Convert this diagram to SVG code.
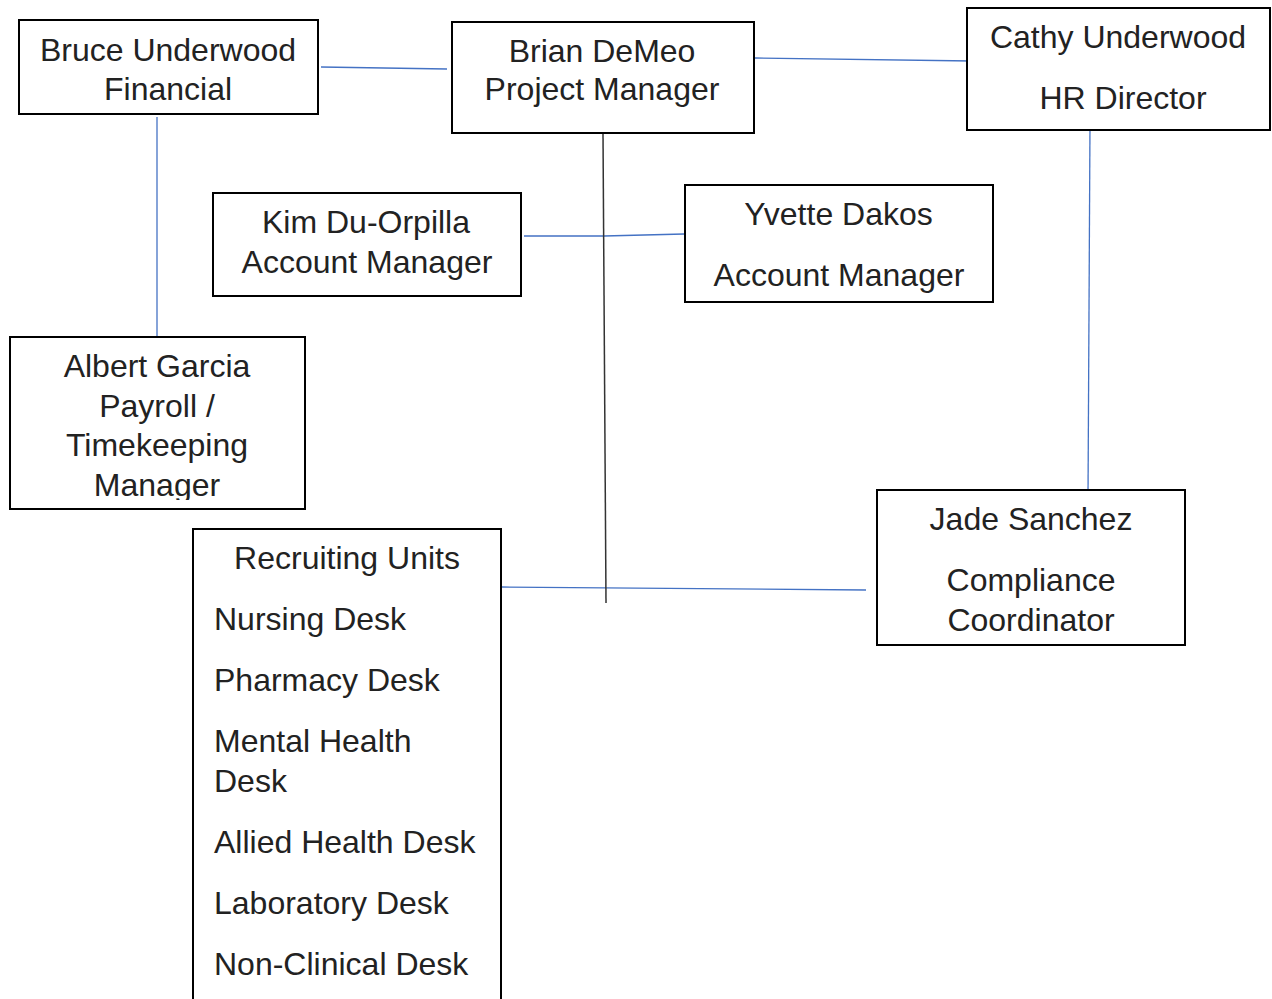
<svg xmlns="http://www.w3.org/2000/svg" width="1272" height="999" viewBox="0 0 1272 999">
<style>
.box{fill:#fff;stroke:#000;stroke-width:2}
text{font-family:"Liberation Sans",Arial,sans-serif;font-size:32px;fill:#222}
.c{text-anchor:middle}
.blue{stroke:#4472C4;stroke-width:1.3;fill:none}
.dark{stroke:#333;stroke-width:1.5;fill:none}
</style>
<defs>
<clipPath id="clipAlbert"><rect x="10" y="337" width="295" height="163"/></clipPath>
</defs>
<rect width="1272" height="999" fill="#fff"/>
<g id="connectors">
<line class="blue" x1="321" y1="67" x2="447" y2="69"/>
<line class="blue" x1="755" y1="58" x2="972" y2="61"/>
<line class="blue" x1="157" y1="117" x2="157" y2="338"/>
<line class="blue" x1="1090" y1="123" x2="1088" y2="499"/>
<polyline class="blue" points="524,236 604,236 684,234"/>
<line class="blue" x1="502" y1="587" x2="866" y2="590"/>
<line class="dark" x1="603" y1="134" x2="606" y2="603"/>
</g>
<g id="bruce">
<rect class="box" x="19" y="20" width="299" height="94"/>
<text class="c" x="168" y="61">Bruce Underwood</text>
<text class="c" x="168" y="100">Financial</text>
</g>
<g id="brian">
<rect class="box" x="452" y="22" width="302" height="111"/>
<text class="c" x="602" y="62">Brian DeMeo</text>
<text class="c" x="602" y="100">Project Manager</text>
</g>
<g id="cathy">
<rect class="box" x="967" y="8" width="303" height="122"/>
<text class="c" x="1118" y="48">Cathy Underwood</text>
<text class="c" x="1123" y="109">HR Director</text>
</g>
<g id="kim">
<rect class="box" x="213" y="193" width="308" height="103"/>
<text class="c" x="366" y="233">Kim Du-Orpilla</text>
<text class="c" x="367" y="273">Account Manager</text>
</g>
<g id="yvette">
<rect class="box" x="685" y="185" width="308" height="117"/>
<text class="c" x="838.5" y="225">Yvette Dakos</text>
<text class="c" x="839" y="286">Account Manager</text>
</g>
<g id="albert">
<rect class="box" x="10" y="337" width="295" height="172"/>
<g clip-path="url(#clipAlbert)">
<text class="c" x="157" y="377">Albert Garcia</text>
<text class="c" x="157" y="417">Payroll /</text>
<text class="c" x="157" y="456">Timekeeping</text>
<text class="c" x="157" y="496">Manager</text>
</g>
</g>
<g id="recruiting">
<rect class="box" x="193" y="529" width="308" height="480"/>
<text class="c" x="347" y="569">Recruiting Units</text>
<text x="214" y="630">Nursing Desk</text>
<text x="214" y="691">Pharmacy Desk</text>
<text x="214" y="752">Mental Health</text>
<text x="214" y="792">Desk</text>
<text x="214" y="853">Allied Health Desk</text>
<text x="214" y="914">Laboratory Desk</text>
<text x="214" y="975">Non-Clinical Desk</text>
</g>
<g id="jade">
<rect class="box" x="877" y="490" width="308" height="155"/>
<text class="c" x="1031" y="530">Jade Sanchez</text>
<text class="c" x="1031" y="591">Compliance</text>
<text class="c" x="1031" y="631">Coordinator</text>
</g>
</svg>
